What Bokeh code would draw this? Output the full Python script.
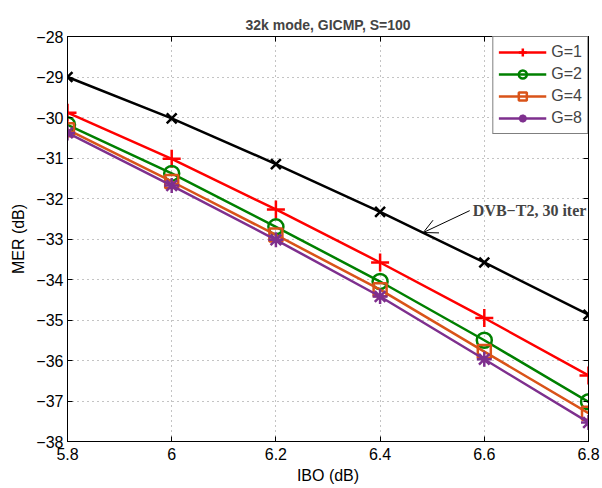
from bokeh.plotting import figure
from bokeh.models import (LinearAxis, FixedTicker, Legend, LegendItem, Label, Arrow, OpenHead, Range1d)
from bokeh.embed import file_html
from bokeh.resources import INLINE

ibo = [5.8, 6.0, 6.2, 6.4, 6.6, 6.8]
dvb_t2 = [-29.0, -30.02, -31.15, -32.33, -33.58, -34.87]
g1 = [-29.88, -31.02, -32.27, -33.58, -34.95, -36.37]
g2 = [-30.18, -31.38, -32.70, -34.05, -35.50, -37.02]
g4 = [-30.30, -31.58, -32.90, -34.25, -35.78, -37.30]
g8 = [-30.38, -31.68, -33.02, -34.42, -35.97, -37.53]

x_ticks = [5.8, 6.0, 6.2, 6.4, 6.6, 6.8]
x_tick_labels = ["5.8", "6", "6.2", "6.4", "6.6", "6.8"]
y_ticks = [-38, -37, -36, -35, -34, -33, -32, -31, -30, -29, -28]
y_tick_labels = ["\u221238", "\u221237", "\u221236", "\u221235", "\u221234", "\u221233",
                 "\u221232", "\u221231", "\u221230", "\u221229", "\u221228"]
legend_labels = ["G=1", "G=2", "G=4", "G=8"]
title_text = "32k mode, GICMP, S=100"
annotation_text = "DVB\u2212T2, 30 iter"
ann_text_xy = (6.578, -32.30)
ann_head_xy = (6.483, -32.84)

FONT = "Liberation Sans"
FS = "16px"

p = figure(frame_width=521, frame_height=405, output_backend="svg", toolbar_location=None,
           x_range=Range1d(5.8, 6.8), y_range=Range1d(-38, -28),
           min_border_left=67, min_border_right=12, min_border_top=36, min_border_bottom=45,
           title=title_text, x_axis_label="IBO (dB)", y_axis_label="MER (dB)")

p.title.align = "center"
p.title.vertical_align = "top"
p.title.text_font = FONT
p.title.text_font_size = "14px"
p.title.text_font_style = "bold"
p.title.text_line_height = 0.7
p.title.offset = 0
p.title.standoff = 4

p.outline_line_color = "black"
p.outline_line_width = 1
p.background_fill_color = "white"
p.border_fill_color = "white"

for ax in (p.xaxis[0], p.yaxis[0]):
    ax.major_tick_in = 5
    ax.major_tick_out = 0
    ax.minor_tick_in = 0
    ax.minor_tick_out = 0
    ax.axis_line_color = "black"
    ax.major_tick_line_color = "black"
    ax.major_label_text_font = FONT
    ax.major_label_text_font_size = FS
    ax.major_label_text_color = "black"
    ax.axis_label_text_font = FONT
    ax.axis_label_text_font_size = FS
    ax.axis_label_text_font_style = "normal"
    ax.axis_label_text_color = "black"

p.xaxis[0].ticker = FixedTicker(ticks=x_ticks)
p.xaxis[0].major_label_overrides = dict(zip(x_ticks, x_tick_labels))
p.xaxis[0].major_label_standoff = 6
p.xaxis[0].axis_label_standoff = 4
p.yaxis[0].ticker = FixedTicker(ticks=y_ticks)
p.yaxis[0].major_label_overrides = dict(zip(y_ticks, y_tick_labels))
p.yaxis[0].major_label_standoff = 4
p.yaxis[0].axis_label_standoff = 6

for loc, tk in (("right", y_ticks), ("above", x_ticks)):
    ax = LinearAxis(ticker=FixedTicker(ticks=tk), major_tick_in=5, major_tick_out=0,
                    minor_tick_in=0, minor_tick_out=0, major_label_text_font_size="0px",
                    major_label_standoff=0, axis_line_color="black")
    ax.major_label_overrides = {t: "" for t in tk}
    p.add_layout(ax, loc)

p.xgrid.ticker = FixedTicker(ticks=x_ticks)
p.ygrid.ticker = FixedTicker(ticks=y_ticks)
for g in (p.xgrid[0], p.ygrid[0]):
    g.grid_line_color = "#888888"
    g.grid_line_dash = "1 4"
    g.grid_line_width = 1

LW = 2.5
p.line(ibo, dvb_t2, line_color="black", line_width=LW)
p.scatter(ibo, dvb_t2, marker="x", size=14, line_color="black", line_width=LW)

series = [
    (g1, "#FF0000", "cross", 18),
    (g2, "#008000", "circle", 15),
    (g4, "#D95319", "square", 13),
    (g8, "#7E2F8E", "asterisk", 15),
]
items = []
for (vals, col, mk, sz), lab in zip(series, legend_labels):
    ln = p.line(ibo, vals, line_color=col, line_width=LW)
    sc = p.scatter(ibo, vals, marker=mk, size=sz, line_color=col, fill_color=None, line_width=LW)
    items.append(LegendItem(label=lab, renderers=[ln, sc]))

legend = Legend(items=items, location="top_right")
legend.border_line_color = "black"
legend.border_line_width = 1
legend.background_fill_alpha = 1
legend.label_text_font = FONT
legend.label_text_font_size = FS
legend.glyph_width = 48
legend.glyph_height = 20
legend.spacing = 2
legend.padding = 5
legend.margin = 0
legend.label_standoff = 5
p.add_layout(legend, "center")

p.add_layout(Arrow(end=OpenHead(size=14, line_width=1, line_color="black"),
                   x_start=ann_text_xy[0] - 0.006, y_start=ann_text_xy[1],
                   x_end=ann_head_xy[0], y_end=ann_head_xy[1],
                   line_color="black", line_width=1))
p.add_layout(Label(x=ann_text_xy[0], y=ann_text_xy[1], text=annotation_text,
                   text_font="Liberation Serif", text_font_style="bold",
                   text_font_size="16px", text_baseline="middle", text_align="left"))

open("out.html", "w").write(file_html(p, INLINE))
